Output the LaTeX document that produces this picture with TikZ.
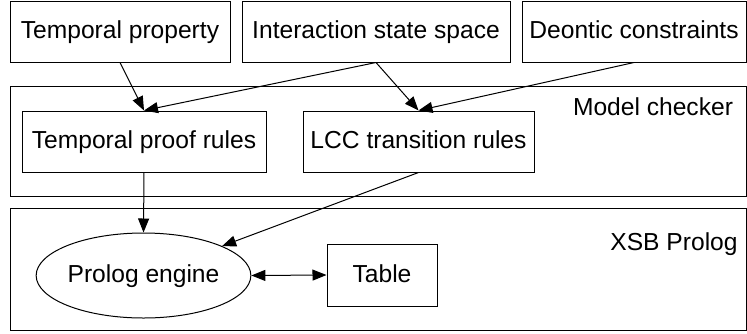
\documentclass[tikz,border=0pt]{standalone}
\usepackage{fontspec}
\setmainfont{Liberation Sans}
\usetikzlibrary{arrows.meta}
\usetikzlibrary{shapes.geometric}

\tikzset{
  box/.style={draw,line width=0.5pt,inner sep=0pt,text height=0.72em,text depth=0pt},
  engbox/.style={draw,ellipse,line width=0.5pt,inner sep=0pt,text height=0.72em,text depth=0pt,minimum width=97.5pt,minimum height=42.5pt},
  arr/.style={line width=0.5pt,-{Triangle[length=7pt,width=5.5pt]}},
  dblarr/.style={line width=0.5pt,{Triangle[length=7pt,width=5.5pt]}-{Triangle[length=7pt,width=5.5pt]}},
  lbl/.style={inner sep=0pt,text height=0.72em,text depth=0pt}
}

\begin{document}
\begin{tikzpicture}[x=0.5pt,y=-0.5pt,font=\fontsize{12.3}{15}\selectfont]
 \useasboundingbox (0,0) rectangle (747,333);
 % containers
 \node[box,minimum width=368pt,minimum height=55pt] (mc) at (378,141) {};
 \node[box,minimum width=368pt,minimum height=61pt] (xsb) at (378,269) {};
 \node[lbl] (mclbl) at (653,108) {Model checker};
 \node[lbl] (xsblbl) at (674,243) {XSB Prolog};
 % inputs
 \node[box,minimum width=110pt,minimum height=30.5pt] (tp) at (120,31.5) {Temporal property};
 \node[box,minimum width=134pt,minimum height=30.5pt] (iss) at (376,31.5) {Interaction state space};
 \node[box,minimum width=112pt,minimum height=30.5pt] (dc) at (634,31.5) {Deontic constraints};
 % rules
 \node[box,minimum width=122pt,minimum height=30.5pt] (tpr) at (144,141.5) {Temporal proof rules};
 \node[box,minimum width=115.5pt,minimum height=30.5pt] (lcc) at (418.5,141.5) {LCC transition rules};
 % prolog
 \node[engbox] (eng) at (143.5,275.5) {Prolog engine};
 \node[box,minimum width=55pt,minimum height=31pt] (tbl) at (382,275) {Table};
 \draw[arr] (tp.south) -- (tpr.north);
 \draw[arr] (iss.south) -- (tpr.north);
 \draw[arr] (iss.south) -- (lcc.north);
 \draw[arr] (dc.south) -- (lcc.north);
 \draw[arr] (tpr.south) -- (eng.north);
 \draw[arr] (lcc.south) -- (eng);
 \draw[dblarr] (eng.east) -- (tbl.west);
\end{tikzpicture}
\end{document}
